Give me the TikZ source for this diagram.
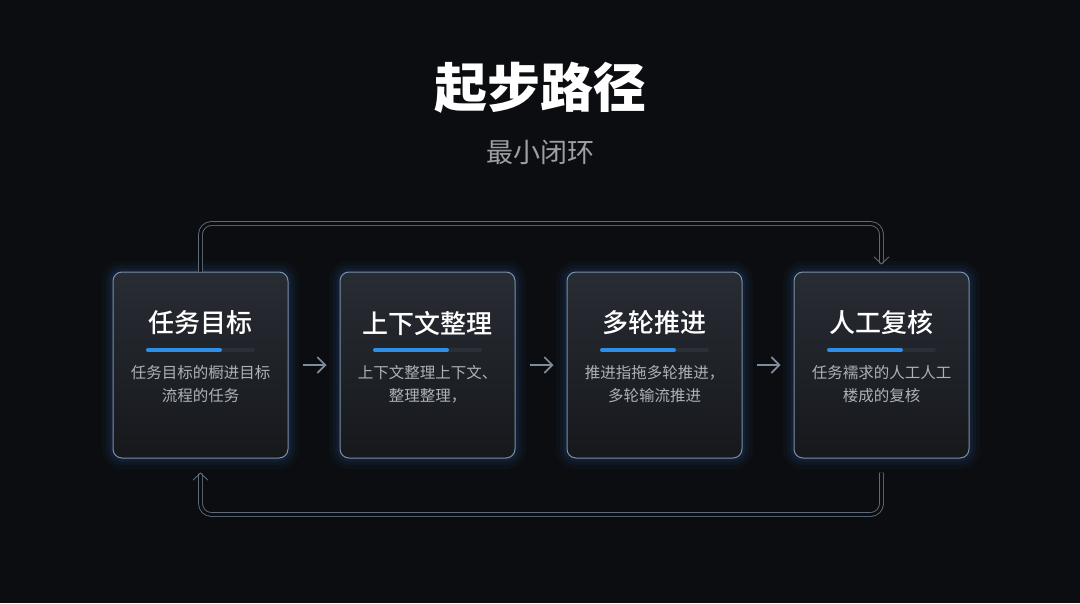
\documentclass[tikz,border=0pt]{standalone}
\usepackage{fontspec}
\setmainfont{Noto Sans CJK SC}
\newfontfamily\medfont{Noto Sans CJK SC Medium}
\usetikzlibrary{positioning,arrows.meta}

\definecolor{bgc}{HTML}{0C0D10}
\definecolor{cardtop}{HTML}{282C33}
\definecolor{cardbot}{HTML}{16181C}
\definecolor{cardline}{HTML}{7A91AB}
\definecolor{glowc}{HTML}{2F6FB8}
\definecolor{barblue}{HTML}{2E8FE6}
\definecolor{bartrack}{HTML}{2B2F36}
\definecolor{descc}{HTML}{AEB2B8}
\definecolor{subc}{HTML}{9C9FA4}
\definecolor{arrowc}{HTML}{7F8C9B}
\definecolor{loopc}{HTML}{5E6B7A}

\begin{document}
\begin{tikzpicture}[
  x=1pt, y=-1pt,
  node distance=51pt,
  card/.style={minimum width=175pt, minimum height=186pt, inner sep=0pt,
    rounded corners=9pt, draw=cardline, line width=1pt,
    top color=cardtop, bottom color=cardbot,
    preaction={draw=glowc, draw opacity=.05, line width=22pt},
    preaction={draw=glowc, draw opacity=.07, line width=14pt},
    preaction={draw=glowc, draw opacity=.10, line width=7pt}},
  cardtitle/.style={text=white, font=\fontsize{26}{30}\selectfont\medfont},
  carddesc/.style={text=descc, align=center, font=\fontsize{15.5}{23}\selectfont},
  flow/.style={draw=arrowc, line width=1.6pt, -{Straight Barb[length=8pt,width=16pt]}},
  loopline/.style={draw=loopc, line width=0.9pt, double=bgc, double distance=3pt,
    rounded corners=11pt, -{Straight Barb[length=7pt,width=15pt]}},
  >={Latex}
]

  \fill[bgc] (0,0) rectangle (1080,603);
  \useasboundingbox (0,0) rectangle (1080,603);

  % heading
  \node[text=white, font=\fontsize{53}{60}\selectfont\bfseries] (title) at (540,88) {起步路径};
  \node[text=subc, font=\fontsize{27}{32}\selectfont] (subtitle) at (540,152) {最小闭环};

  % four stages
  \node[card] (task) at (200.5,365) {};
  \node[card, right=of task] (context) {};
  \node[card, right=of context] (rounds) {};
  \node[card, right=of rounds] (review) {};

  \node[cardtitle] (task-t) at ([yshift=42pt]task.center) {任务目标};
  \node[cardtitle] (context-t) at ([yshift=42pt]context.center) {上下文整理};
  \node[cardtitle] (rounds-t) at ([yshift=42pt]rounds.center) {多轮推进};
  \node[cardtitle] (review-t) at ([yshift=42pt]review.center) {人工复核};

  \foreach \n in {task,context,rounds,review} {
    \draw[bartrack, line width=4pt, line cap=round] ([xshift=-52.5pt,yshift=15pt]\n.center) -- ++(105,0);
    \draw[barblue, line width=4pt, line cap=round] ([xshift=-52.5pt,yshift=15pt]\n.center) -- ++(72,0);
  }

  \node[carddesc] (task-d) at ([yshift=-19.5pt]task.center) {任务目标的橱进目标\\流程的任务};
  \node[carddesc] (context-d) at ([yshift=-19.5pt]context.center) {上下文整理上下文、\\整理整理，};
  \node[carddesc] (rounds-d) at ([yshift=-19.5pt]rounds.center) {推进指拖多轮推进，\\多轮输流推进};
  \node[carddesc] (review-d) at ([yshift=-19.5pt]review.center) {任务襦求的人工人工\\楼成的复核};

  % forward steps
  \draw[flow] ([xshift=14pt]task.east) -- ([xshift=-13pt]context.west);
  \draw[flow] ([xshift=14pt]context.east) -- ([xshift=-13pt]rounds.west);
  \draw[flow] ([xshift=14pt]rounds.east) -- ([xshift=-13pt]review.west);

  % closing loops
  \draw[loopline] (task.north) -- ++(0,-48) -| ([yshift=7pt]review.north);
  \draw[loopline] ([yshift=-14pt]review.south) -- ++(0,42) -| ([yshift=-14pt]task.south);

\end{tikzpicture}
\end{document}
